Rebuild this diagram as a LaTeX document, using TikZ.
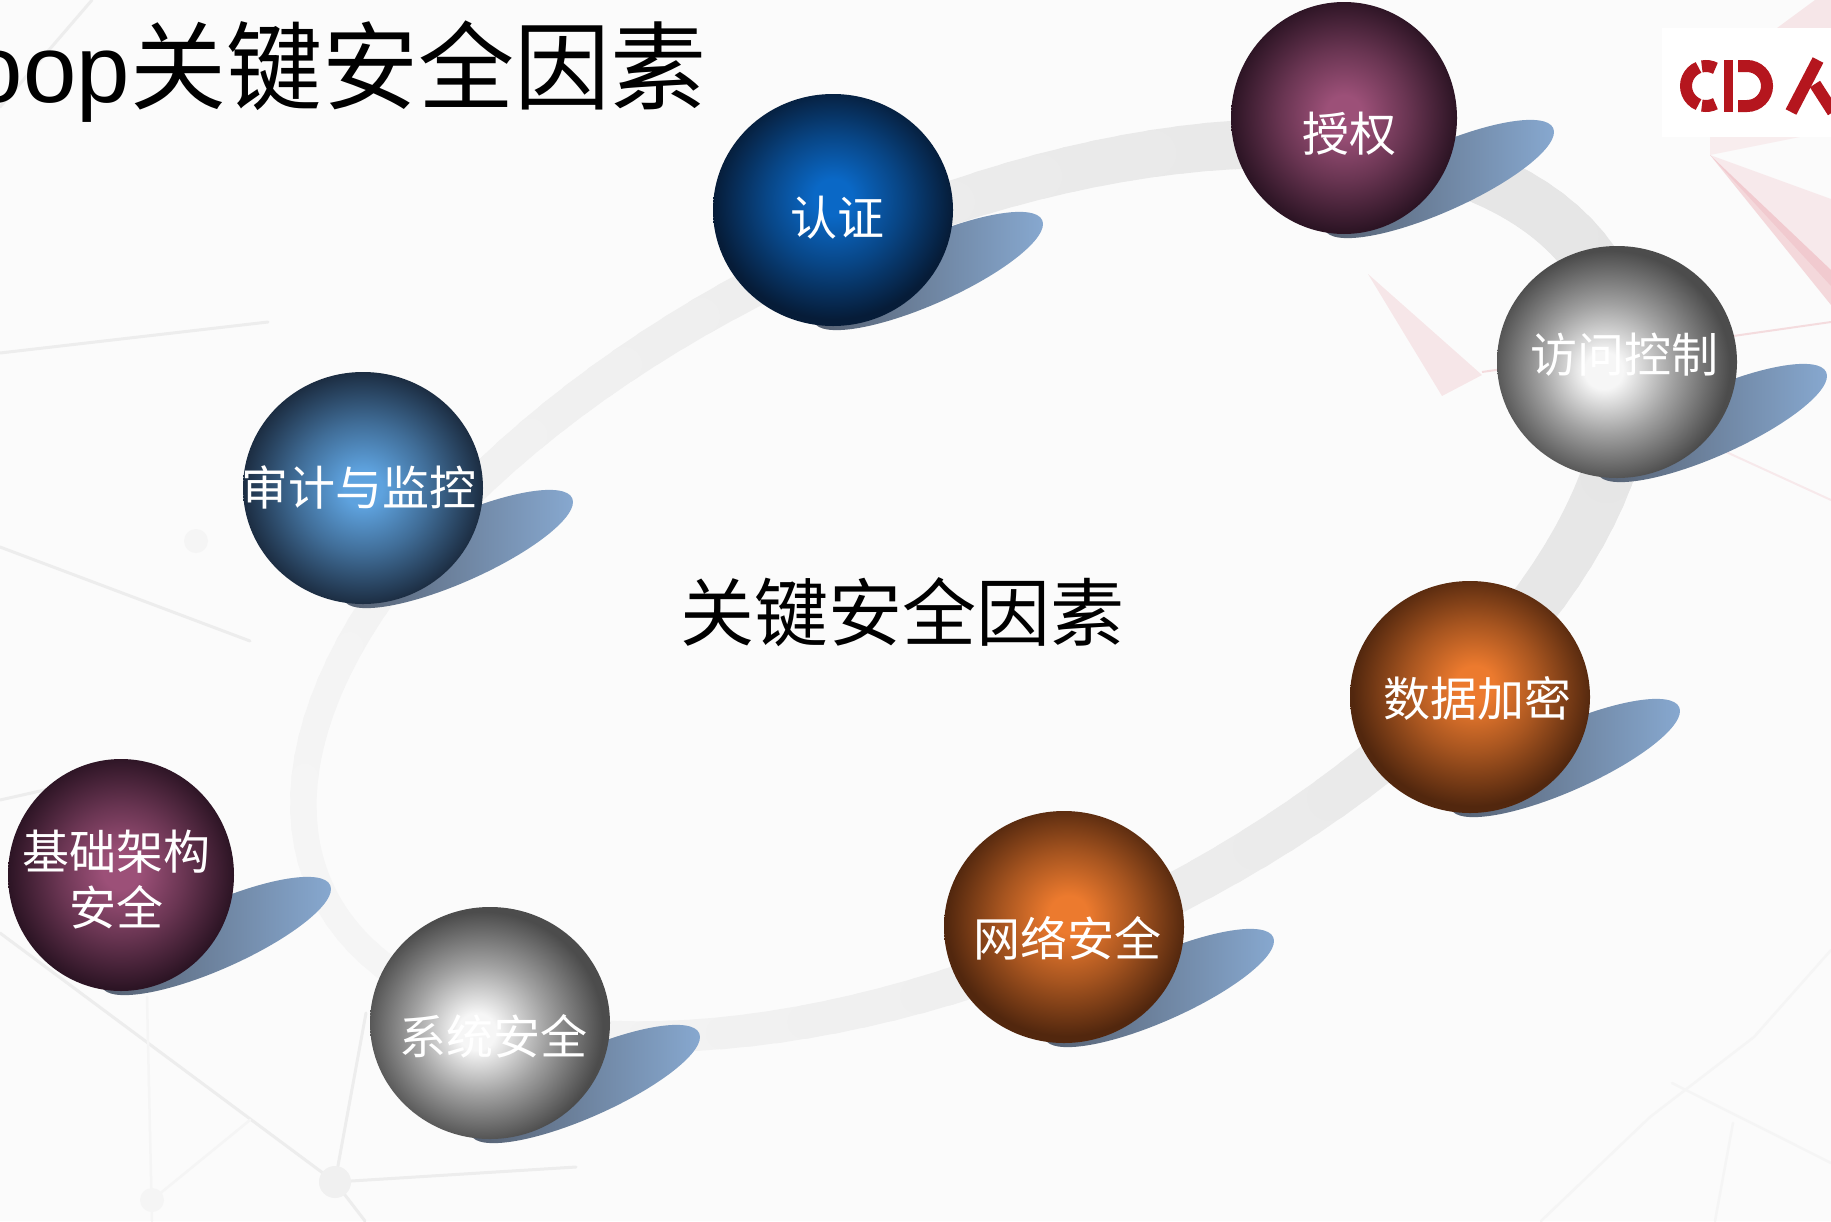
\documentclass[tikz,border=0pt]{standalone}
\usepackage{fontspec}
\newfontfamily\cjk{Noto Sans CJK SC}
\newfontfamily\latin{Liberation Sans}

% palette
\definecolor{bg}{HTML}{FBFBFB}
\definecolor{blueIn}{HTML}{0A68C6}
\definecolor{blueOut}{HTML}{061C38}
\definecolor{skyIn}{HTML}{5EA2DE}
\definecolor{skyOut}{HTML}{1C2D42}
\definecolor{plumIn}{HTML}{9C5078}
\definecolor{plumOut}{HTML}{2C1424}
\definecolor{greyIn}{HTML}{F6F6F6}
\definecolor{greyOut}{HTML}{4C4C4C}
\definecolor{amberIn}{HTML}{EC7A2E}
\definecolor{amberOut}{HTML}{52270E}
\definecolor{shdark}{HTML}{545E6E}
\definecolor{shlight}{HTML}{88AAD2}
\definecolor{logored}{HTML}{B5161E}
\definecolor{rose}{HTML}{D9505F}

% glossy ball shadings (edge of the ball at 25bp)
\pgfdeclareradialshading{ballblue}{\pgfpoint{0bp}{3bp}}{color(0bp)=(blueIn); color(4bp)=(blueIn); color(14bp)=(blueIn!55!blueOut); color(25bp)=(blueOut); color(50bp)=(blueOut)}
\pgfdeclareradialshading{ballsky}{\pgfpoint{0bp}{0bp}}{color(0bp)=(skyIn); color(4bp)=(skyIn); color(14bp)=(skyIn!55!skyOut); color(25bp)=(skyOut); color(50bp)=(skyOut)}
\pgfdeclareradialshading{ballplum}{\pgfpoint{0bp}{1bp}}{color(0bp)=(plumIn); color(4bp)=(plumIn); color(14bp)=(plumIn!55!plumOut); color(25bp)=(plumOut); color(50bp)=(plumOut)}
\pgfdeclareradialshading{ballgrey}{\pgfpoint{-3bp}{-2bp}}{color(0bp)=(greyIn); color(4bp)=(greyIn); color(14bp)=(greyIn!50!greyOut); color(25bp)=(greyOut); color(50bp)=(greyOut)}
\pgfdeclareradialshading{ballamber}{\pgfpoint{1bp}{3bp}}{color(0bp)=(amberIn); color(4bp)=(amberIn); color(14bp)=(amberIn!55!amberOut); color(25bp)=(amberOut); color(50bp)=(amberOut)}

\tikzset{
  lbl/.style={text=white, inner sep=0pt, align=center,
    font={\cjk\fontsize{47}{56}\selectfont}},
  netline/.style={line width=3pt, black!7, line cap=round},
  faintline/.style={line width=2.5pt, black!4, line cap=round},
}

% blue drop shadow to the lower right of a ball centred at (#1,-#2)
\newcommand\ballshadow[2]{%
  \begin{scope}[shift={(#1+95,-#2-61)}, rotate=24]
    \shade[left color=shdark, right color=shlight] (0,0) ellipse (125pt and 33pt);
  \end{scope}}

\begin{document}
\begin{tikzpicture}[x=1pt,y=1pt]
\useasboundingbox (0,0) rectangle (1831,-1221);
\fill[bg] (0,0) rectangle (1831,-1221);

% faint network in the background
\draw[netline] (0,-107) -- (92,0);
\draw[netline] (0,-353) -- (268,-322);
\draw[netline] (0,-547) -- (250,-641);
\draw[netline] (0,-800) -- (156,-765);
\draw[netline] (0,-933) -- (335,-1182);
\draw[netline] (335,-1182) -- (576,-1167);
\draw[netline] (335,-1182) -- (366,-1013);
\draw[netline] (335,-1182) -- (365,-1221);
\draw[faintline] (147,-997) -- (152,-1221);
\draw[faintline] (152,-1200) -- (250,-1120);
\fill[black!6] (335,-1182) circle (16pt);
\fill[black!4] (152,-1200) circle (12pt);
\fill[black!4] (196,-541) circle (12pt);
\draw[faintline] (1672,-1083) -- (1831,-1163);
\draw[faintline] (1733,-1123) -- (1715,-1221);
\draw[faintline] (1754,-1037) -- (1831,-950);
\draw[faintline] (1650,-1117) -- (1754,-1037);
\draw[faintline] (1541,-1221) -- (1650,-1117);

% pale rose facets on the right
\fill[rose, opacity=0.10] (1710,-155) -- (1831,-199) -- (1831,-286) -- cycle;
\fill[rose, opacity=0.20] (1710,-155) -- (1831,-270) -- (1831,-305) -- cycle;
\fill[rose, opacity=0.08] (1710,-137) -- (1800,-137) -- (1710,-155) -- cycle;
\fill[rose, opacity=0.12] (1777,-28) -- (1815,0) -- (1831,0) -- (1831,-28) -- cycle;
\fill[rose, opacity=0.12] (1368,-274) -- (1482,-375) -- (1442,-396) -- cycle;
\draw[rose, opacity=0.18, line width=2pt] (1482,-372) -- (1831,-322);
\draw[rose, opacity=0.10, line width=2pt] (1700,-440) -- (1831,-500);

% the grey ring linking the balls, wider and darker on its right
\begin{scope}[shift={(965,-590)}, rotate=25]
  \foreach \k in {0,...,143}{
    \pgfmathsetmacro\ta{\k*2.5}
    \pgfmathsetmacro\tb{\k*2.5+2.5}
    \pgfmathsetmacro\tm{\k*2.5+1.25}
    \pgfmathsetmacro\wd{40+14*cos(\tm)}
    \pgfmathsetmacro\gr{7+3*cos(\tm)}
    \draw[line width=\wd pt, black!\gr, line cap=round]
      (\ta:710pt and 365pt) -- (\tb:710pt and 365pt);
  }
\end{scope}

% shadows
\ballshadow{833}{210}
\ballshadow{1344}{118}
\ballshadow{1617}{362}
\ballshadow{363}{488}
\ballshadow{1470}{697}
\ballshadow{1064}{927}
\ballshadow{490}{1023}
\ballshadow{121}{875}

% balls
\shade[shading=ballblue]  (833,-210)  ellipse (120pt and 116pt);
\shade[shading=ballplum]  (1344,-118) ellipse (113pt and 116pt);
\shade[shading=ballgrey]  (1617,-362) ellipse (120pt and 116pt);
\shade[shading=ballsky]   (363,-488)  ellipse (120pt and 116pt);
\shade[shading=ballamber] (1470,-697) ellipse (120pt and 116pt);
\shade[shading=ballamber] (1064,-927) ellipse (120pt and 116pt);
\shade[shading=ballgrey]  (490,-1023) ellipse (120pt and 116pt);
\shade[shading=ballplum]  (121,-875)  ellipse (113pt and 116pt);

% ball labels
\node[lbl] (auth)   at (837,-218)  {认证};
\node[lbl] (authz)  at (1349,-134) {授权};
\node[lbl] (access) at (1624,-355) {访问控制};
\node[lbl] (audit)  at (359,-487)  {审计与监控};
\node[lbl] (crypt)  at (1477,-698) {数据加密};
\node[lbl] (net)    at (1067,-938) {网络安全};
\node[lbl] (sys)    at (493,-1036) {系统安全};
\node[lbl] (infra)  at (117,-880)  {基础架构\\安全};

% centre caption
\node[inner sep=0pt, font={\cjk\fontsize{74}{80}\selectfont}] (core) at (902,-612) {关键安全因素};

% slide title
\node[anchor=base west, inner sep=0pt, font={\cjk\fontsize{96}{110}\selectfont}] (title) at (130,-102) {关键安全因素};
\node[anchor=base east, inner sep=0pt, font={\latin\fontsize{96}{110}\selectfont}] (titlelat) at (title.base west) {oop};

% logo plate
\fill[white] (1662,-28) rectangle (1831,-137);
\begin{scope}[logored, line width=12pt]
  \draw (1706,-86) ++(112:20) arc[start angle=112, end angle=248, radius=20];
  \draw (1706,-86) ++(62:20) arc[start angle=62, end angle=102, radius=20];
  \draw (1706,-86) ++(258:20) arc[start angle=258, end angle=298, radius=20];
  \fill (1724,-60) rectangle (1733,-112);
  \draw (1738,-66) -- (1747,-66) arc[start angle=90, end angle=-90, radius=20] -- (1738,-106);
  \draw (1791,-112) -- (1818,-60);
  \draw (1815,-84) -- (1833,-112);
\end{scope}
\end{tikzpicture}
\end{document}
